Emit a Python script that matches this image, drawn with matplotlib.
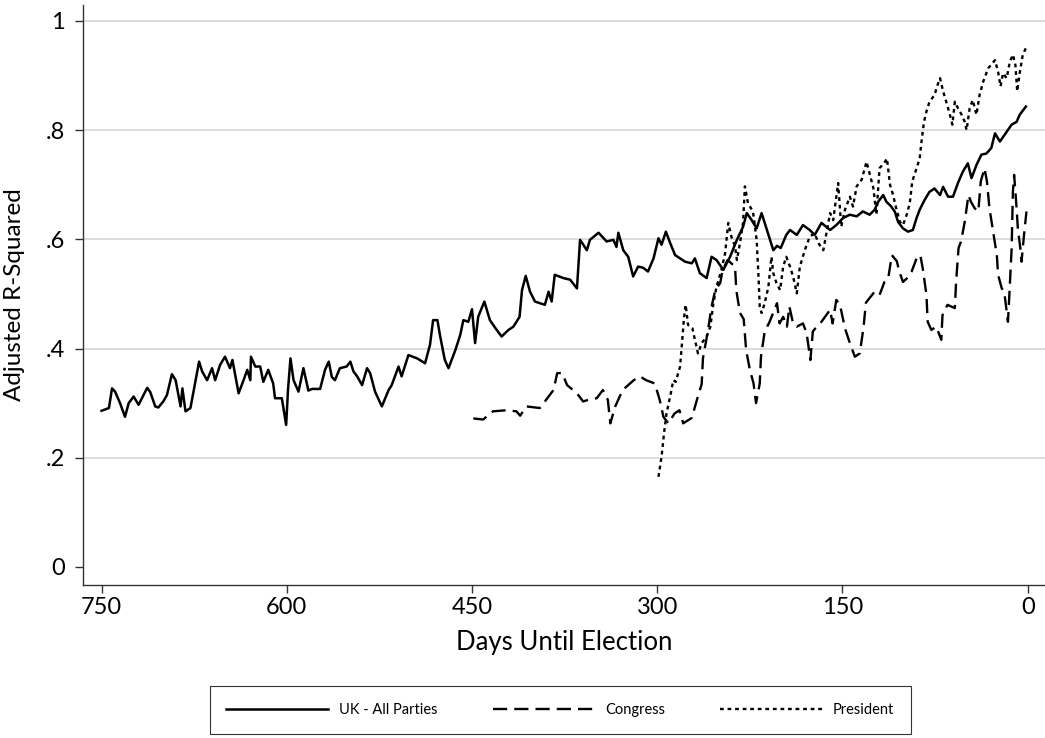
import matplotlib
matplotlib.use('Agg')
import matplotlib.pyplot as plt

# days until election / adjusted R-squared
uk_days = [750, 744, 741.5, 739, 735, 731, 728, 724, 720, 713, 710.5, 706.5, 704, 700, 697,
           693, 690, 686, 684.5, 682, 678, 674, 671, 668.5, 664.5, 660.5, 658, 654, 650, 646,
           644, 639, 635, 632, 629.5, 629, 625.5, 621.5, 619, 615, 611, 609.5, 604, 600.5, 599,
           597, 594.5, 590.5, 586.5, 582.5, 579.5, 573, 569, 566, 563.5, 561, 557, 551.5, 548.5,
           546, 543, 539, 535, 532.5, 528.5, 523, 517.5, 515, 509.5, 507, 501.5, 494.5, 488,
           484, 481.5, 478, 476, 472, 469, 463.5, 459.5, 457, 453, 450, 447.5, 445, 440, 435.5,
           430, 426, 420.5, 416.5, 411.5, 409.5, 406.5, 403, 399, 395, 391, 388, 385.5, 383,
           376, 370.5, 365, 362.5, 357, 354.5, 347.5, 341, 335.5, 333, 331.5, 327.5, 323.5,
           319.5, 315.5, 311.5, 307.5, 303, 299, 296.5, 293, 289.5, 285.5, 277.5, 272, 269.5,
           265.5, 260, 256, 252, 246.5, 241, 235.5, 230.5, 227.5, 223.5, 219.5, 215.5, 213,
           210, 206, 203, 200, 195.5, 192.5, 187, 182, 176.5, 172.5, 167, 160, 155, 149.5, 144,
           138.5, 133.5, 128, 124, 121, 117, 114.5, 110.5, 107.5, 105, 101, 97, 93, 90, 87.5,
           83.5, 79.5, 75.5, 71, 68.5, 64.5, 60.5, 56.5, 52.5, 48.5, 45.5, 41.5, 37.5, 33.5,
           29.5, 26.5, 22.5, 17, 13, 9, 6.5, 1.5]
uk_r2 = [.286, .291, .327, .321, .300, .275, .300, .312, .297, .328, .320, .294, .292, .303, .315,
         .353, .342, .294, .327, .285, .291, .340, .376, .358, .342, .364, .342, .370, .385, .364,
         .379, .318, .342, .361, .342, .385, .367, .367, .339, .361, .336, .309, .309, .260, .324,
         .382, .342, .321, .364, .323, .326, .326, .361, .376, .348, .342, .364, .367, .376,
         .358, .349, .333, .364, .355, .321, .294, .324, .333, .367, .349, .388, .382, .373,
         .407, .452, .452, .425, .379, .364, .397, .425, .452, .449, .472, .410, .458, .486, .452,
         .434, .422, .434, .440, .458, .507, .533, .504, .486, .483, .480, .504, .486, .535,
         .529, .526, .510, .599, .580, .599, .612, .596, .599, .586, .612, .580, .568,
         .532, .550, .548, .541, .565, .602, .590, .614, .593, .571, .559, .556, .565,
         .538, .529, .568, .562, .544, .568, .599, .623, .648, .635, .620, .648, .630,
         .608, .580, .588, .584, .608, .617, .608, .626, .617, .608, .630, .617, .626, .639, .645,
         .642, .651, .645, .654, .669, .681, .669, .660, .650, .632, .620, .614, .617, .639, .654,
         .672, .687, .693, .681, .696, .678, .678, .703, .724, .739, .712, .736, .755, .757,
         .767, .794, .779, .797, .810, .815, .828, .843]

congress_days = [449, 441, 433, 422, 414, 411, 406, 395, 390, 384, 381, 377, 373, 365, 360, 356,
                 349, 344, 340, 338, 334, 328, 319, 314, 309, 302, 298, 295, 291, 286, 282, 279,
                 272, 268, 264, 263, 259, 256, 253, 249, 247, 243, 237, 236, 233, 230, 228, 225,
                 222, 220, 217, 216, 213, 209, 203, 201, 198, 195, 193, 190, 187, 182, 179, 176,
                 174, 171, 167, 160, 158, 155, 152, 148, 144, 140, 136, 133, 131, 124, 120, 116,
                 113, 110, 106, 104, 101, 98, 94, 90, 87, 85, 82, 81, 78, 74, 70, 69, 65, 59, 58,
                 56, 54, 51, 48, 46, 43, 40, 38, 35, 33, 31, 28, 25, 24, 21, 19, 16, 15, 13, 12,
                 11, 9, 8, 6, 5, 3, 1]
congress_r2 = [.272, .270, .285, .287, .285, .277, .294, .291, .306, .324, .355, .355, .333, .318,
               .303, .306, .309, .324, .306, .263, .294, .324, .342, .349, .342, .336, .306, .275,
               .263, .281, .287, .263, .273, .305, .335, .382, .432, .477, .507, .520, .544, .562,
               .550, .507, .465, .454, .397, .361, .336, .300, .336, .385, .431, .449, .483, .446,
               .458, .440, .477, .446, .440, .446, .428, .379, .431, .440, .449, .471, .446, .489,
               .480, .437, .410, .385, .391, .438, .484, .504, .498, .522, .528, .571, .560, .541,
               .522, .528, .541, .565, .571, .547, .498, .449, .434, .440, .416, .461, .480, .474,
               .522, .584, .596, .632, .681, .669, .657, .651, .706, .730, .706, .657, .614, .571,
               .535, .510, .504, .449, .492, .584, .687, .718, .657, .620, .584, .559, .608, .651]

president_days = [299, 296.5, 294.5, 292.5, 289, 287, 285, 281.5, 279.5, 278.5, 277, 275, 271.5,
                  269.5, 267, 264, 260, 257, 254.5, 252, 248, 245, 242.5, 240, 237, 235.5, 233,
                  230.5, 229, 226.5, 222.5, 219.5, 218, 217, 215.5, 213, 210, 207.5, 206, 203.5,
                  200.5, 198, 195.5, 192.5, 190, 187, 184.5, 180.5, 176.5, 172.5, 169.5, 165.5,
                  163, 160, 157.5, 153.5, 151, 148, 144, 141.5, 138.5, 134.5, 130.5, 125, 122.5,
                  120, 115.5, 114, 111.5, 109, 106.5, 103.5, 101, 98, 95.5, 93.5, 90, 87.5, 86,
                  84, 82, 79.5, 75.5, 72.5, 71, 68.5, 66, 63, 61, 59, 56.5, 53.5, 51, 49.5, 47,
                  44.5, 41.5, 39, 36, 35, 32, 29.5, 26.5, 24, 22, 20, 17, 14.5, 12, 10, 8.5, 6.5,
                  4, 1.5]
president_r2 = [.165, .202, .245, .281, .318, .342, .339, .367, .422, .452, .480, .443, .437, .416,
                .391, .410, .422, .440, .483, .513, .544, .575, .630, .605, .587, .562, .593, .630,
                .697, .666, .651, .599, .532, .477, .465, .483, .513, .568, .538, .520, .507, .550,
                .568, .550, .532, .501, .550, .580, .605, .611, .593, .580, .611, .648, .635, .703,
                .623, .654, .678, .660, .697, .709, .742, .694, .645, .730, .742, .748, .700, .681,
                .657, .632, .626, .645, .666, .706, .730, .748, .779, .815, .834, .852, .864, .886,
                .895, .871, .852, .828, .810, .852, .840, .828, .815, .800, .840, .855, .828, .864,
                .889, .895, .913, .920, .928, .907, .880, .904, .895, .925, .938, .920, .871, .904,
                .938, .950]

yticks = [0, .2, .4, .6, .8, 1]
ytick_labels = ['0', '.2', '.4', '.6', '.8', '1']
xticks = [750, 600, 450, 300, 150, 0]

plt.rcParams['font.family'] = ['Lato', 'DejaVu Sans']

fig = plt.figure(figsize=(10.45, 7.38), dpi=100)
ax = fig.add_axes([83/1045, 153/738, 962/1045, 580/738])

for y in yticks[1:]:
    ax.axhline(y, color='#dadada', lw=1.3, zorder=0)

ax.plot(uk_days, uk_r2, color='black', lw=1.8, label='UK - All Parties')
ax.plot(congress_days, congress_r2, color='black', lw=1.7, ls=(0, (6, 3)), label='Congress')
ax.plot(president_days, president_r2, color='black', lw=1.7, ls=(0, (1.6, 1.6)), label='President')

ax.set_xlim(765, -14)
ax.set_ylim(-0.033, 1.029)
ax.set_xticks(xticks)
ax.set_yticks(yticks)
ax.set_yticklabels(ytick_labels)
ax.tick_params(labelsize=17, length=6, width=1, color='#333333', pad=3)
ax.tick_params(axis='y', pad=7)
for s in ['top', 'right']:
    ax.spines[s].set_visible(False)
for s in ['left', 'bottom']:
    ax.spines[s].set_color('#333333')
    ax.spines[s].set_linewidth(1)

ax.set_xlabel('Days Until Election', fontsize=18.5)
ax.set_ylabel('Adjusted R-Squared', fontsize=17.5)
ax.xaxis.set_label_coords(0.5, -0.078)
ax.yaxis.set_label_coords(-0.06, 0.5)

leg = fig.legend(loc='center', bbox_to_anchor=(0.536, 0.038), ncol=3, fontsize=10.5,
                 handlelength=7, handletextpad=0.7, columnspacing=3.8,
                 frameon=True, fancybox=False, edgecolor='black', borderpad=1.15)
leg.get_frame().set_linewidth(0.8)

plt.savefig('out.png', dpi=100)
